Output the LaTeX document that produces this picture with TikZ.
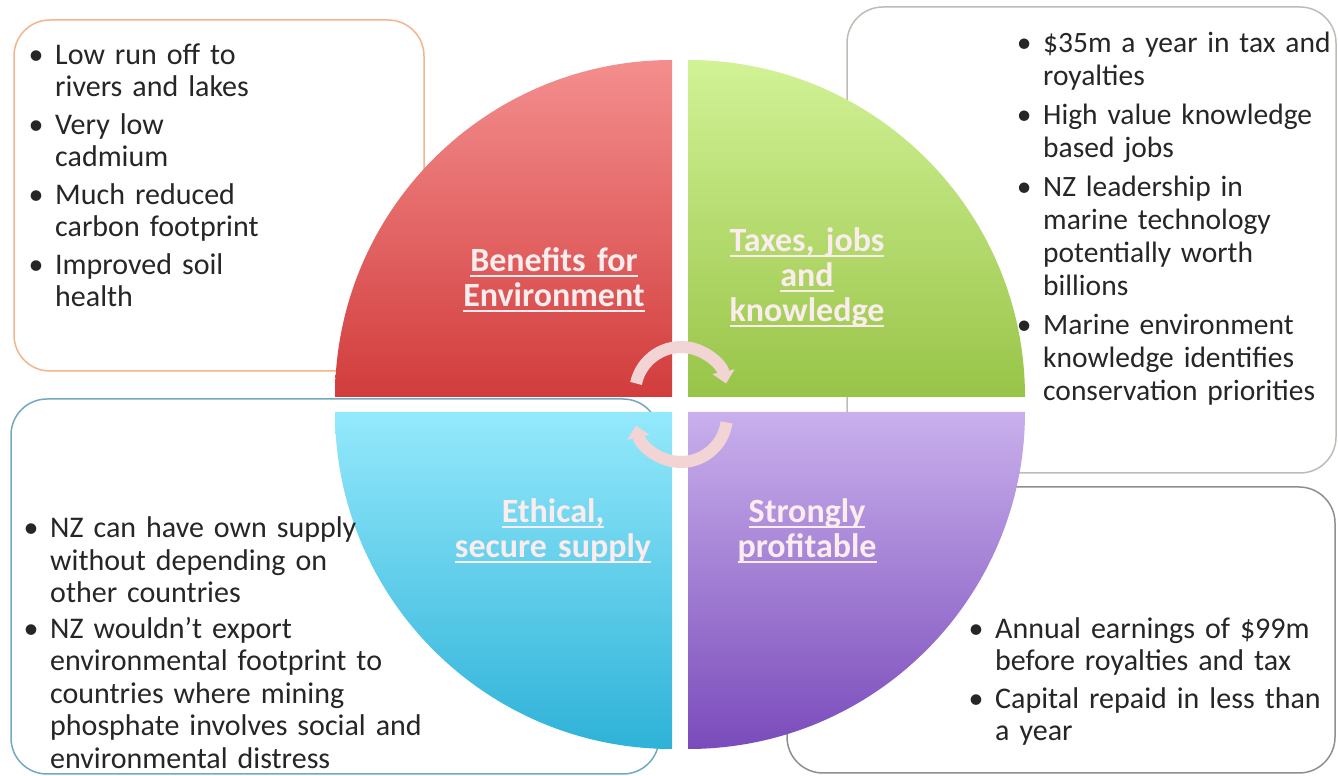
\documentclass[tikz,border=0pt]{standalone}
\usepackage{fontspec}
\setmainfont{Carlito}
\usetikzlibrary{arrows.meta}
\definecolor{redT}{HTML}{F48E8E}
\definecolor{redB}{HTML}{D23C3C}
\definecolor{grnT}{HTML}{D2F296}
\definecolor{grnB}{HTML}{98C448}
\definecolor{cyaT}{HTML}{94E9FC}
\definecolor{cyaB}{HTML}{2EB2D8}
\definecolor{purT}{HTML}{C9B0EC}
\definecolor{purB}{HTML}{7A4BBB}
\definecolor{txt}{HTML}{262626}
\definecolor{lab}{HTML}{FBECEE}
\definecolor{arrowpink}{HTML}{F3D4D4}
\definecolor{bTL}{HTML}{F4B58E}
\definecolor{bTR}{HTML}{BDBDB5}
\definecolor{bBL}{HTML}{72A9C0}
\definecolor{bBR}{HTML}{8E8E96}
\newcommand{\bul}{\leavevmode\llap{\makebox[0pt]{•}\hspace{19pt}}}
\newcommand{\ulx}[1]{\leavevmode\setbox0=\hbox{#1}\rlap{\rule[-5pt]{\wd0}{2pt}}\box0}
\tikzset{
  bodytext/.style={anchor=base west, text width=600pt, align=left, inner sep=0pt, text=txt},
  quadlabel/.style={anchor=base, text width=300pt, align=center, inner sep=0pt, text=lab,
    font=\bfseries\fontsize{34pt}{35pt}\selectfont},
  panel/.style={draw=#1, line width=1.5pt, rounded corners=36pt, fill=white},
  cyc/.style={line width=12pt, draw=arrowpink, -{Triangle[width=22pt,length=12pt]}}
}
\begin{document}
\begin{tikzpicture}[x=1pt,y=1pt]
\useasboundingbox (0,0) rectangle (1338,776);
\fill[white] (0,0) rectangle (1338,776);
% panels
\draw[panel=bTL] (14,405) rectangle (424,756);
\draw[panel=bTR] (847,303) rectangle (1336,769);
\draw[panel=bBL] (11,2) rectangle (659,377);
\draw[panel=bBR] (787,3) rectangle (1335,289);
% quarters
\shade[top color=redT, bottom color=redB] (672,379) -- (335,379) arc[start angle=180, end angle=90, radius=337] -- cycle;
\shade[top color=grnT, bottom color=grnB] (688,379) -- (688,716) arc[start angle=90, end angle=0, radius=337] -- cycle;
\shade[top color=cyaT, bottom color=cyaB] (672,364) -- (335,364) arc[start angle=180, end angle=270, radius=337] -- cycle;
\shade[top color=purT, bottom color=purB] (688,364) -- (1025,364) arc[start angle=0, end angle=-90, radius=337] -- cycle;
% body texts
\node[bodytext, font=\fontsize{30pt}{32pt}\selectfont] (tl) at (55,711)
  {\bul Low run off to\\ rivers and lakes\\[6pt]
   \bul Very low\\ cadmium\\[6pt]
   \bul Much reduced\\ carbon footprint\\[6pt]
   \bul Improved soil\\ health};
\node[bodytext, font=\fontsize{29.5pt}{33pt}\selectfont] (tr) at (1043,723)
  {\bul \$35m a year in tax and\\ royalties\\[6pt]
   \bul High value knowledge\\ based jobs\\[6pt]
   \bul NZ leadership in\\ marine technology\\ potentially worth\\ billions\\[6pt]
   \bul Marine environment\\ knowledge identifies\\ conservation priorities};
\node[bodytext, font=\fontsize{30pt}{32.5pt}\selectfont] (bl) at (50,238)
  {\bul NZ can have own supply\\ without depending on\\ other countries\\[3pt]
   \bul NZ wouldn’t export\\ environmental footprint to\\ countries where mining\\ phosphate involves social and\\ environmental distress};
\node[bodytext, font=\fontsize{30pt}{32pt}\selectfont] (br) at (995,137)
  {\bul Annual earnings of \$99m\\ before royalties and tax\\[6pt]
   \bul Capital repaid in less than\\ a year};
% labels
\node[quadlabel] (env) at (554,504) {\ulx{Benefits for}\\\ulx{Environment}};
\node[quadlabel] (tax) at (807,524) {\ulx{Taxes, jobs}\\\ulx{and}\\\ulx{knowledge}};
\node[quadlabel] (eth) at (553,253) {\ulx{Ethical,}\\\ulx{secure supply}};
\node[quadlabel] (pro) at (807,253) {\ulx{Strongly}\\\ulx{profitable}};
% cycle arrows
\coordinate (tc) at (681,383);
\coordinate (bc) at (681,360);
\draw[cyc] ([shift={(168:46)}]tc) arc[start angle=168, end angle=12, radius=46];
\draw[cyc] ([shift={(-8:46)}]bc) arc[start angle=-8, end angle=-168, radius=46];
\end{tikzpicture}
\end{document}
